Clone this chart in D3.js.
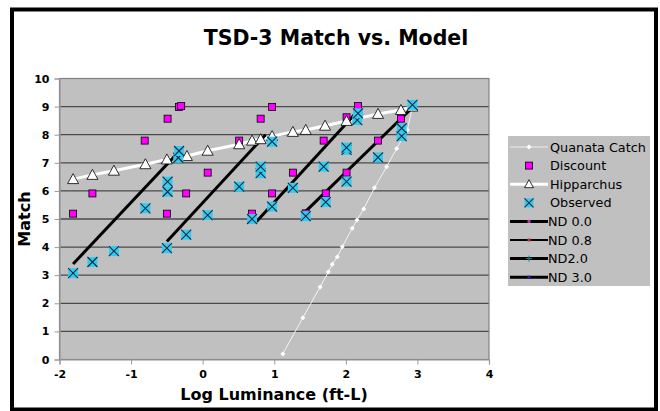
<!DOCTYPE html>
<html><head><meta charset="utf-8">
<script src="https://cdn.jsdelivr.net/npm/d3@7"></script>
<style>body{margin:0;background:#fff}svg{display:block}</style>
</head><body>
<svg id="c" width="660" height="411"></svg>
<script>
const title = "TSD-3 Match vs. Model";
const xLabel = "Log Luminance (ft-L)";
const yLabel = "Match";
const xTicks = [-2, -1, 0, 1, 2, 3, 4];
const yTicks = [0, 1, 2, 3, 4, 5, 6, 7, 8, 9, 10];

const quanata = [[1.12,0.2],[1.40,1.49],[1.64,2.58],[1.755,3.11],[1.81,3.39],[1.88,3.65],[1.95,4.01],[2.09,4.67],[2.155,4.96],[2.25,5.36],[2.40,6.11],[2.57,6.86],[2.71,7.51],[2.86,8.17],[2.93,9.0]];
const discount = [[-1.81,5.19],[-1.54,5.91],[-0.81,7.79],[-0.49,8.57],[-0.33,8.99],[-0.30,9.02],
  [-0.50,5.19],[-0.23,5.91],[0.07,6.65],[0.51,7.79],[0.81,8.57],[0.97,8.99],
  [0.69,5.19],[0.97,5.91],[1.26,6.65],[1.69,7.79],[2.01,8.62],[2.17,9.02],
  [1.44,5.2],[1.72,5.91],[2.01,6.65],[2.45,7.79],[2.77,8.57]];
const hipparchus = [[-1.81,6.42],[-1.54,6.57],[-1.24,6.72],[-0.80,6.95],[-0.50,7.12],[-0.22,7.24],[0.07,7.43],[0.51,7.66],[0.69,7.79],[0.81,7.84],[0.97,7.95],[1.26,8.10],[1.44,8.17],[1.71,8.32],[2.01,8.49],[2.45,8.74],[2.77,8.88],[2.93,9.0]];
const observed = [[-1.81,3.07],[-1.54,3.47],[-1.24,3.86],[-0.80,5.38],[-0.50,3.96],[-0.49,5.97],[-0.49,6.33],[-0.34,7.18],[-0.33,7.42],[-0.23,4.44],[0.07,5.14],[0.51,6.15],[0.69,5.0],[0.81,6.63],[0.81,6.86],[0.97,5.44],[0.97,7.75],
  [1.26,6.11],[1.44,5.1],[1.69,6.86],[1.72,5.6],[2.01,6.33],[2.01,7.46],[2.01,7.54],[2.16,8.52],[2.17,8.76],[2.45,7.19],[2.78,7.95],[2.78,8.23],[2.93,9.06]];
const nd00 = [[-1.81,3.4],[-0.33,7.4]];
const nd08 = [[-0.50,4.2],[0.88,8.0]];
const nd20 = [[0.75,4.9],[2.17,8.85]];
const nd30 = [[1.41,5.2],[2.895,8.88]];

const svg = d3.select("#c");
const x = d3.scaleLinear().domain([-2, 4]).range([59.5, 489]);
const y = d3.scaleLinear().domain([0, 10]).range([359.5, 78.5]);
const F = "'DejaVu Sans', Verdana, sans-serif";

// plot background
svg.append("rect").attr("x", x(-2)).attr("y", y(10)).attr("width", x(4) - x(-2)).attr("height", y(0) - y(10)).attr("fill", "#c0c0c0");
// gridlines
svg.append("g").selectAll("line").data(yTicks.filter(d => d > 0 && d < 10)).join("line")
  .attr("x1", x(-2)).attr("x2", x(4)).attr("y1", d => y(d)).attr("y2", d => y(d))
  .attr("stroke", "#4a4a4a").attr("stroke-width", 1.3);
// border
svg.append("rect").attr("x", x(-2)).attr("y", y(10)).attr("width", x(4) - x(-2)).attr("height", y(0) - y(10))
  .attr("fill", "none").attr("stroke", "#808080").attr("stroke-width", 1.2);

// axes
const ax = svg.append("g").attr("transform", `translate(0,${y(0)})`)
  .call(d3.axisBottom(x).tickValues(xTicks).tickSize(5).tickPadding(6).tickFormat(d3.format("d")));
const ay = svg.append("g").attr("transform", `translate(${x(-2)},0)`)
  .call(d3.axisLeft(y).tickValues(yTicks).tickSize(5).tickPadding(5).tickFormat(d3.format("d")));
[ax, ay].forEach(a => {
  a.select(".domain").attr("stroke", "#999").attr("stroke-width", 1.2);
  a.selectAll(".tick line").attr("stroke", "#999");
  a.selectAll("text").attr("font-family", F).attr("font-weight", "bold").attr("font-size", 11).attr("fill", "#000");
});
ax.selectAll("text").text(d => d < 0 ? "-" + Math.abs(d) : d);

const line = d3.line().x(d => x(d[0])).y(d => y(d[1]));
const plot = svg.append("g");

// Quanata line
plot.append("path").attr("d", line(quanata)).attr("fill", "none").attr("stroke", "#f4f4f4").attr("stroke-width", 1);
// Hipparchus line
plot.append("path").attr("d", line(hipparchus)).attr("fill", "none").attr("stroke", "#fff").attr("stroke-width", 3);
// ND lines
[nd00, nd08, nd20, nd30].forEach(s => {
  plot.append("path").attr("d", line(s)).attr("fill", "none").attr("stroke", "#000").attr("stroke-width", 3);
});

// Quanata points (small diamonds)
plot.append("g").selectAll("path").data(quanata).join("path")
  .attr("transform", d => `translate(${x(d[0])},${y(d[1])})`)
  .attr("d", "M0,-2.5L2.5,0L0,2.5L-2.5,0Z").attr("fill", "#fff");
// Discount squares
plot.append("g").selectAll("rect").data(discount).join("rect")
  .attr("x", d => x(d[0]) - 3.5).attr("y", d => y(d[1]) - 3.5).attr("width", 7).attr("height", 7)
  .attr("fill", "#ff00ff").attr("stroke", "#000").attr("stroke-width", 0.8);
// Hipparchus triangles
const tri = "M0,-5.5L5.5,4.5L-5.5,4.5Z";
plot.append("g").selectAll("path").data(hipparchus).join("path")
  .attr("transform", d => `translate(${x(d[0])},${y(d[1])})`)
  .attr("d", tri).attr("fill", "#fff").attr("stroke", "#000").attr("stroke-width", 0.8);
// Observed
function obsMark(g, cx, cy, s) {
  g.append("rect").attr("x", cx - s).attr("y", cy - s).attr("width", 2 * s).attr("height", 2 * s).attr("fill", "#33ccf0");
  g.append("path").attr("d", `M${cx - s},${cy - s}L${cx + s},${cy + s}M${cx + s},${cy - s}L${cx - s},${cy + s}`)
    .attr("stroke", "#1a2a40").attr("stroke-width", 1.1);
}
const og = plot.append("g");
observed.forEach(d => obsMark(og, x(d[0]), y(d[1]), 5));

// Title and labels
svg.append("text").attr("x", 336).attr("y", 45).attr("text-anchor", "middle")
  .attr("font-family", F).attr("font-weight", "bold").attr("font-size", 20.5).text(title);
svg.append("text").attr("x", 274).attr("y", 400).attr("text-anchor", "middle")
  .attr("font-family", F).attr("font-weight", "bold").attr("font-size", 16).text(xLabel);
svg.append("text").attr("transform", "translate(30,219) rotate(-90)").attr("text-anchor", "middle")
  .attr("font-family", F).attr("font-weight", "bold").attr("font-size", 16).text(yLabel);

// Legend
const leg = svg.append("g");
leg.append("rect").attr("x", 508).attr("y", 136).attr("width", 142).attr("height", 150).attr("fill", "#c0c0c0");
const legItems = ["Quanata Catch", "Discount", "Hipparchus", "Observed", "ND 0.0", "ND 0.8", "ND2.0", "ND 3.0"];
legItems.forEach((name, i) => {
  const cy = 147 + i * 18.6;
  const g = leg.append("g");
  const x1 = 510, x2 = 548, cx = 529;
  if (i === 0) {
    g.append("line").attr("x1", x1).attr("x2", x2).attr("y1", cy).attr("y2", cy).attr("stroke", "#eee").attr("stroke-width", 1);
    g.append("path").attr("transform", `translate(${cx},${cy})`).attr("d", "M0,-2.5L2.5,0L0,2.5L-2.5,0Z").attr("fill", "#fff");
  } else if (i === 1) {
    g.append("rect").attr("x", cx - 3.5).attr("y", cy - 3.5).attr("width", 7).attr("height", 7).attr("fill", "#ff00ff").attr("stroke", "#000").attr("stroke-width", 0.8);
  } else if (i === 2) {
    g.append("line").attr("x1", x1).attr("x2", x2).attr("y1", cy).attr("y2", cy).attr("stroke", "#fff").attr("stroke-width", 3);
    g.append("path").attr("transform", `translate(${cx},${cy})`).attr("d", "M0,-4.5L4.5,3.5L-4.5,3.5Z").attr("fill", "#fff").attr("stroke", "#000").attr("stroke-width", 0.8);
  } else if (i === 3) {
    obsMark(g, cx, cy, 4.5);
  } else {
    const cols = ["#c030c0", "#c03030", "#208080", "#2020a0"];
    g.append("line").attr("x1", x1).attr("x2", x2).attr("y1", cy).attr("y2", cy).attr("stroke", "#000").attr("stroke-width", i === 5 ? 2 : 3);
    if (i === 6) {
      g.append("path").attr("d", `M${cx - 3},${cy}L${cx + 3},${cy}M${cx},${cy - 3}L${cx},${cy + 3}`).attr("stroke", cols[i - 4]).attr("stroke-width", 1);
    } else {
      g.append("rect").attr("x", cx - 1.5).attr("y", cy - 1.5).attr("width", 3).attr("height", 3).attr("fill", cols[i - 4]);
    }
  }
  g.append("text").attr("x", i >= 4 ? 548 : 550).attr("y", cy + 4.5).attr("font-family", F).attr("font-size", 12.8).attr("fill", "#000").text(name);
});

// outer frame
svg.append("rect").attr("x", 12).attr("y", 9.5).attr("width", 644).attr("height", 400).attr("fill", "none").attr("stroke", "#000").attr("stroke-width", 4);
</script>
</body></html>
